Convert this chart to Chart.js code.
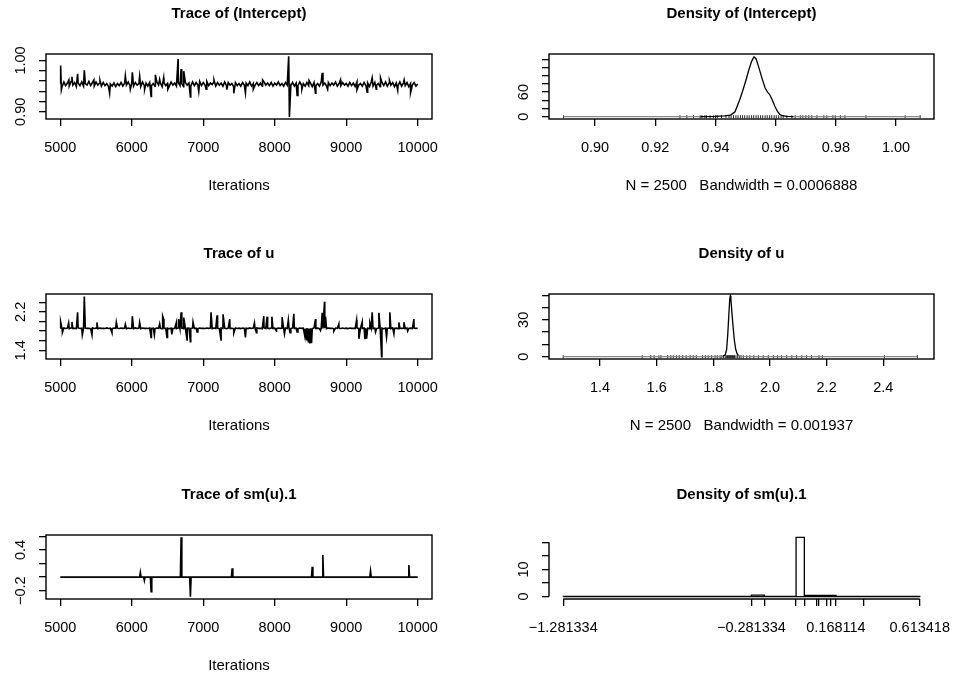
<!DOCTYPE html>
<html>
<head>
<meta charset="utf-8">
<script src="https://cdn.jsdelivr.net/npm/chart.js@4.4.0/dist/chart.umd.min.js"></script>
<style>
  body { margin: 0; background: #fff; width: 954px; height: 679px; position: relative; overflow: hidden; }
  canvas { position: absolute; }
</style>
</head>
<body>
<script>
// ---- data ----
const traceStart = 5000, traceThin = 25;
const iterTicks = [5000, 6000, 7000, 8000, 9000, 10000];
const iterLabels = ['5000', '6000', '7000', '8000', '9000', '10000'];

// (Intercept) trace, every 25th iteration
const interceptBase = [
  0.955, 0.949, 0.958, 0.951, 0.956, 0.950, 0.959, 0.952, 0.957, 0.949,
  0.956, 0.951, 0.958, 0.950, 0.955, 0.952, 0.959, 0.951, 0.957, 0.950,
  0.958, 0.952, 0.956, 0.950, 0.957, 0.951, 0.955, 0.949, 0.954, 0.950,
  0.956, 0.949, 0.955, 0.951, 0.957, 0.950, 0.956, 0.952, 0.958, 0.951,
  0.956, 0.950, 0.957, 0.952, 0.955, 0.949, 0.958, 0.951, 0.956, 0.950,
  0.957, 0.951, 0.955, 0.950, 0.958, 0.952, 0.956, 0.949, 0.957, 0.951,
  0.955, 0.950, 0.958, 0.952, 0.956, 0.950, 0.957, 0.951, 0.955, 0.949,
  0.957, 0.952, 0.956, 0.950, 0.958, 0.951, 0.957, 0.952, 0.959, 0.951,
  0.957, 0.952, 0.959, 0.951, 0.956, 0.953, 0.958, 0.950, 0.957, 0.952,
  0.956, 0.950, 0.958, 0.951, 0.957, 0.952, 0.955, 0.949, 0.957, 0.951,
  0.955, 0.950, 0.957, 0.952, 0.956, 0.951, 0.958, 0.950, 0.955, 0.952,
  0.957, 0.951, 0.956, 0.950, 0.958, 0.952, 0.956, 0.951, 0.957, 0.950,
  0.956, 0.952, 0.958, 0.951, 0.955, 0.950, 0.957, 0.952, 0.956, 0.951,
  0.957, 0.950, 0.956, 0.951, 0.958, 0.952, 0.955, 0.950, 0.957, 0.951,
  0.956, 0.949, 0.957, 0.951, 0.955, 0.950, 0.958, 0.952, 0.956, 0.950,
  0.957, 0.951, 0.956, 0.952, 0.958, 0.950, 0.955, 0.951, 0.957, 0.952,
  0.955, 0.950, 0.957, 0.951, 0.956, 0.949, 0.958, 0.952, 0.955, 0.950,
  0.957, 0.951, 0.956, 0.949, 0.958, 0.950, 0.957, 0.952, 0.955, 0.949,
  0.957, 0.951, 0.958, 0.950, 0.956, 0.952, 0.957, 0.949, 0.956, 0.951,
  0.958, 0.950, 0.956, 0.951, 0.957, 0.949, 0.955, 0.952, 0.957, 0.950,
  0.954
];
const interceptSpikeIter = [5005, 5015, 5120, 5163, 5242, 5336, 5470, 5555, 5690, 5910, 5980, 6008, 6110, 6180, 6270, 6330, 6390, 6446, 6505, 6648, 6690, 6727, 6820, 6937, 7040, 7150, 7330, 7427, 7590, 7700, 7830, 8195, 8205, 8313, 8380, 8480, 8570, 8664, 8740, 8920, 9150, 9293, 9363, 9420, 9480, 9605, 9720, 9810, 9900];
const interceptSpikeVals = [0.990, 0.943, 0.962, 0.968, 0.974, 0.981, 0.962, 0.961, 0.936, 0.970, 0.944, 0.977, 0.969, 0.944, 0.930, 0.972, 0.963, 0.966, 0.944, 1.003, 0.983, 0.979, 0.929, 0.940, 0.944, 0.962, 0.943, 0.936, 0.937, 0.944, 0.962, 1.008, 0.890, 0.932, 0.944, 0.961, 0.936, 0.976, 0.944, 0.962, 0.943, 0.938, 0.966, 0.944, 0.966, 0.961, 0.942, 0.962, 0.937];
const interceptYTicks = [0.90, 0.92, 0.94, 0.96, 0.98, 1.00];
const interceptYLabels = ['0.90', '', '', '', '', '1.00'];

// (Intercept) density
const interceptDensX = [0.8895, 0.925, 0.935, 0.940, 0.943, 0.945, 0.9465, 0.948, 0.949, 0.950, 0.951, 0.952, 0.9528, 0.9535, 0.9545, 0.9555, 0.9565, 0.9573, 0.958, 0.9588, 0.9597, 0.9605, 0.9613, 0.962, 0.9635, 0.966, 0.975, 1.008];
const interceptDensY = [0, 0.1, 0.3, 1, 2, 4, 12, 40, 62, 86, 112, 135, 146, 141, 118, 93, 70, 60, 54, 42, 26, 14, 6, 3, 1, 0.3, 0.1, 0];
const interceptRug = [0.8895, 0.9282, 0.9305, 0.9327, 0.9349, 0.9355, 0.9365, 0.937, 0.9382, 0.9393, 0.940, 0.9406, 0.942, 0.9435, 0.9445, 0.9452, 0.946, 0.9468, 0.9475, 0.9483, 0.949, 0.9497, 0.9505, 0.9512, 0.952, 0.9527, 0.9535, 0.9542, 0.955, 0.9557, 0.9565, 0.9572, 0.958, 0.9587, 0.9595, 0.9602, 0.961, 0.9618, 0.9625, 0.9637, 0.9654, 0.9665, 0.9682, 0.969, 0.970, 0.971, 0.972, 0.9737, 0.976, 0.977, 0.979, 0.9798, 0.9815, 0.983, 0.990, 1.003, 1.008];
const interceptXTicks = [0.90, 0.92, 0.94, 0.96, 0.98, 1.00];
const interceptXLabels = ['0.90', '0.92', '0.94', '0.96', '0.98', '1.00'];
const interceptDensTicks = [0, 20, 40, 60, 80, 100, 120, 140];
const interceptDensLabels = ['0', '', '', '60', '', '', '', ''];

// u trace, every 25th iteration
const uBase = [
  1.862, 1.853, 1.866, 1.855, 1.861, 1.851, 1.864, 1.856, 1.860, 1.852,
  1.865, 1.854, 1.861, 1.850, 1.863, 1.856, 1.859, 1.852, 1.866, 1.855,
  1.861, 1.851, 1.864, 1.856, 1.860, 1.853, 1.866, 1.855, 1.862, 1.850,
  1.863, 1.857, 1.861, 1.853, 1.865, 1.856, 1.860, 1.851, 1.864, 1.855,
  1.859, 1.852, 1.866, 1.856, 1.861, 1.850, 1.863, 1.857, 1.860, 1.853,
  1.865, 1.855, 1.862, 1.851, 1.864, 1.856, 1.860, 1.852, 1.866, 1.857,
  1.861, 1.850, 1.863, 1.855, 1.859, 1.853, 1.865, 1.856, 1.862, 1.851,
  1.864, 1.857, 1.860, 1.852, 1.866, 1.855, 1.861, 1.850, 1.863, 1.856,
  1.859, 1.853, 1.865, 1.857, 1.862, 1.851, 1.864, 1.855, 1.860, 1.852,
  1.866, 1.856, 1.861, 1.850, 1.863, 1.857, 1.860, 1.853, 1.865, 1.855,
  1.862, 1.851, 1.864, 1.856, 1.860, 1.852, 1.866, 1.855, 1.861, 1.853,
  1.863, 1.856, 1.860, 1.851, 1.865, 1.855, 1.862, 1.852, 1.864, 1.857,
  1.861, 1.850, 1.863, 1.856, 1.859, 1.853, 1.866, 1.855, 1.862, 1.851,
  1.864, 1.857, 1.860, 1.852, 1.865, 1.856, 1.861, 1.850, 1.863, 1.855,
  1.860, 1.853, 1.866, 1.856, 1.862, 1.851, 1.864, 1.855, 1.861, 1.852,
  1.865, 1.857, 1.860, 1.850, 1.863, 1.856, 1.861, 1.853, 1.864, 1.855,
  1.862, 1.851, 1.865, 1.856, 1.860, 1.852, 1.866, 1.855, 1.861, 1.853,
  1.863, 1.857, 1.860, 1.851, 1.864, 1.855, 1.862, 1.852, 1.865, 1.856,
  1.861, 1.850, 1.863, 1.857, 1.859, 1.853, 1.866, 1.855, 1.862, 1.851,
  1.864, 1.856, 1.860, 1.852, 1.865, 1.855, 1.861, 1.853, 1.863, 1.856,
  1.858
];
const uSpikeIter = [5005, 5030, 5117, 5163, 5242, 5308, 5336, 5443, 5513, 5723, 5784, 5910, 6008, 6110, 6270, 6316, 6390, 6432, 6445, 6493, 6560, 6624, 6656, 6690, 6727, 6773, 6820, 6857, 6913, 7109, 7193, 7249, 7277, 7370, 7427, 7590, 7716, 7744, 7847, 7893, 7960, 8024, 8103, 8136, 8190, 8215, 8267, 8313, 8420, 8445, 8470, 8490, 8515, 8570, 8640, 8664, 8696, 8710, 8827, 8897, 9145, 9177, 9223, 9262, 9285, 9331, 9363, 9410, 9457, 9495, 9564, 9610, 9667, 9737, 9807, 9860, 9947];
const uSpikeVals = [1.995, 1.775, 1.97, 1.99, 2.19, 1.72, 2.52, 1.72, 1.98, 1.765, 1.985, 1.94, 2.11, 1.98, 1.67, 1.72, 1.95, 2.11, 2.05, 1.67, 1.73, 1.98, 2.05, 2.19, 2.08, 1.615, 1.58, 1.99, 1.78, 2.19, 2.13, 1.615, 2.15, 2.05, 1.76, 1.67, 1.97, 1.765, 2.11, 2.10, 2.10, 1.80, 2.09, 1.74, 2.03, 1.765, 2.16, 1.78, 1.70, 1.62, 1.58, 1.545, 1.55, 2.05, 1.81, 2.18, 2.41, 2.10, 1.80, 1.95, 2.03, 1.64, 1.99, 1.63, 1.64, 1.97, 2.19, 1.78, 2.18, 1.27, 1.68, 2.19, 1.74, 1.98, 1.985, 1.80, 2.05];
const uYTicks = [1.4, 1.6, 1.8, 2.0, 2.2, 2.4];
const uYLabels = ['1.4', '', '', '', '2.2', ''];

// u density
const uDensX = [1.27, 1.80, 1.835, 1.842, 1.847, 1.851, 1.855, 1.858, 1.860, 1.862, 1.866, 1.870, 1.874, 1.879, 1.884, 1.889, 1.90, 1.95, 2.52];
const uDensY = [0, 0, 0.3, 1.5, 6, 18, 35, 47, 49.6, 47, 35, 24, 14, 6, 2.5, 0.8, 0.2, 0, 0];
const uRug = [1.27, 1.549, 1.579, 1.591, 1.608, 1.615, 1.639, 1.650, 1.659, 1.67, 1.680, 1.692, 1.704, 1.718, 1.729, 1.74, 1.762, 1.772, 1.782, 1.794, 1.806, 1.814, 1.824, 1.830, 1.836, 1.842, 1.846, 1.850, 1.853, 1.856, 1.858, 1.860, 1.862, 1.865, 1.868, 1.871, 1.875, 1.880, 1.886, 1.892, 1.898, 1.906, 1.918, 1.929, 1.943, 1.959, 1.976, 1.994, 2.012, 2.027, 2.041, 2.059, 2.077, 2.094, 2.112, 2.129, 2.147, 2.173, 2.185, 2.404, 2.52];
const uXTicks = [1.4, 1.6, 1.8, 2.0, 2.2, 2.4];
const uXLabels = ['1.4', '1.6', '1.8', '2.0', '2.2', '2.4'];
const uDensTicks = [0, 10, 20, 30, 40, 50];
const uDensLabels = ['0', '', '', '30', '', ''];

// sm(u).1 trace (flat at 0 apart from a few single-draw jumps)
const smIter = [5000, 6110, 6120, 6130, 6166, 6176, 6186, 6260, 6270, 6280, 6680, 6690, 6700, 6810, 6820, 6830, 7394, 7404, 7414, 8514, 8524, 8534, 8663, 8673, 8683, 9330, 9340, 9350, 9866, 9876, 9886, 10000];
const smVals = [0, 0, 0.07, 0, 0, -0.053, 0, 0, -0.215, 0, 0, 0.586, 0, 0, -0.288, 0, 0, 0.13, 0, 0, 0.153, 0, 0, 0.326, 0, 0, 0.09, 0, 0, 0.178, 0, 0];
const smYTicks = [-0.2, 0, 0.2, 0.4, 0.6];
const smYLabels = ['\u22120.2', '', '', '0.4', ''];

// sm(u).1 histogram
const smBreaks = [-1.281334, -0.281334, -0.2123, -0.0439, 0.0, 0.0676, 0.0761, 0.1207, 0.142, 0.168114, 0.315, 0.613418];
const smHeights = [0.08, 0.5, 0.05, 21.8, 0.4, 0.4, 0.4, 0.4, 0.4, 0.08, 0.08];
const smBreakLabels = ['\u22121.281334', '\u22120.281334', '', '', '', '', '', '', '', '0.168114', '', '0.613418'];
const smHistTicks = [0, 5, 10, 15, 20];
const smHistLabels = ['0', '', '10', '', ''];

// ---- drawing ----
const FAMILY = '"Liberation Sans", Arial, Helvetica, sans-serif';
const FONT_TICK = 14.5, FONT_MAIN = 15, FONT_LAB = 15;
const TICK_LEN = 7;
const YLAB_OFF = 25;          // box edge -> centre of rotated y labels
const Y_BOX = 40, X_BOX = 50;  // room kept for each axis
Chart.defaults.font.family = FAMILY;
Chart.defaults.color = '#000';

function widest(labels, size) {
  const c = document.createElement('canvas').getContext('2d');
  c.font = size + 'px ' + FAMILY;
  return Math.max(0, ...labels.map(s => c.measureText(s).width));
}

function axis(min, max, vals, labels, isY) {
  const o = {
    type: 'linear', min, max,
    position: isY ? 'left' : 'bottom',
    afterFit: s => {
      if (isY) s.width = Y_BOX; else s.height = X_BOX;
      s.paddingLeft = s.paddingRight = s.paddingTop = s.paddingBottom = 0;
    },
    afterBuildTicks: s => { s.ticks = vals.map(v => ({ value: v })); },
    grid: { drawOnChartArea: false, drawTicks: true, tickLength: TICK_LEN, color: '#000', lineWidth: 1.3 },
    border: { display: false },
    ticks: { autoSkip: false, font: { size: FONT_TICK }, color: '#000', callback: (v, i) => labels[i] }
  };
  if (isY) {
    Object.assign(o.ticks, { minRotation: 90, maxRotation: 90, crossAlign: 'center', padding: YLAB_OFF - TICK_LEN - widest(labels, FONT_TICK) / 2 });
  } else {
    Object.assign(o.ticks, { minRotation: 0, maxRotation: 0, padding: 13 });
  }
  return o;
}

const rPlugin = {
  id: 'rtext',
  afterDraw(chart, args, o) {
    const { ctx, chartArea: a, scales } = chart;
    ctx.save();
    ctx.strokeStyle = '#000';
    ctx.lineWidth = 1.4;
    if (o.box) {
      ctx.strokeRect(a.left, a.top, a.right - a.left, a.bottom - a.top);
    } else {
      const xs = scales.x.ticks, ys = scales.y.ticks;
      ctx.beginPath();
      ctx.moveTo(scales.x.getPixelForValue(xs[0].value), a.bottom);
      ctx.lineTo(scales.x.getPixelForValue(xs[xs.length - 1].value), a.bottom);
      ctx.moveTo(a.left, scales.y.getPixelForValue(ys[0].value));
      ctx.lineTo(a.left, scales.y.getPixelForValue(ys[ys.length - 1].value));
      ctx.stroke();
    }
    ctx.fillStyle = '#000';
    ctx.textAlign = 'center';
    ctx.textBaseline = 'middle';
    const cx = (a.left + a.right) / 2;
    ctx.font = 'bold ' + FONT_MAIN + 'px ' + FAMILY;
    ctx.fillText(o.title, cx, a.top - 40);
    if (o.xlab) {
      ctx.font = FONT_LAB + 'px ' + FAMILY;
      ctx.fillText(o.xlab, cx, a.bottom + 67);
    }
    ctx.restore();
  }
};

function panel(box, datasets, xa, ya, texts) {
  const PL = 60, PT = 54, PR = 16, PB = 80;
  const cv = document.createElement('canvas');
  cv.width = box.r - box.l + PL + PR;
  cv.height = box.b - box.t + PT + PB;
  cv.style.left = (box.l - PL) + 'px';
  cv.style.top = (box.t - PT) + 'px';
  document.body.appendChild(cv);
  new Chart(cv, {
    type: 'line',
    data: { datasets },
    options: {
      responsive: false,
      animation: false,
      layout: { padding: { left: PL - Y_BOX, top: PT, right: PR, bottom: PB - X_BOX } },
      scales: { x: xa, y: ya },
      plugins: { legend: { display: false }, tooltip: { enabled: false }, rtext: texts }
    },
    plugins: [rPlugin]
  });
}

function tracePoints(base, spikeIter, spikeVals) {
  const pts = base.map((v, i) => ({ x: traceStart + i * traceThin, y: v }));
  spikeIter.forEach((it, i) => pts.push({ x: it, y: spikeVals[i] }));
  return pts.sort((p, q) => p.x - q.x);
}

const pairs = (xs, ys) => xs.map((x, i) => ({ x, y: ys[i] }));

function lineSet(data, width) {
  return { data, borderColor: '#000', borderWidth: width, pointRadius: 0, tension: 0, fill: false };
}

// density curve: the flat tails along zero come out grey in the original
function densSet(data) {
  const s = lineSet(data, 1.3);
  s.segment = { borderColor: c => (c.p0.parsed.y < 1 && c.p1.parsed.y < 1) ? '#8a8a8a' : '#000' };
  return s;
}

function rugSet(xs) {
  return { type: 'scatter', data: xs.map(x => ({ x, y: 0 })), pointStyle: 'line', rotation: 90, pointRadius: 1.5, borderColor: '#222', borderWidth: 1, showLine: false };
}

function histOutline(breaks, heights) {
  const pts = [{ x: breaks[0], y: 0 }];
  heights.forEach((h, i) => {
    pts.push({ x: breaks[i], y: h }, { x: breaks[i + 1], y: h }, { x: breaks[i + 1], y: 0 });
  });
  pts.push({ x: breaks[0], y: 0 });
  return pts;
}

const leftCol = { l: 46, r: 432 }, rightCol = { l: 549, r: 934 };

panel({ ...leftCol, t: 54, b: 119 },
  [lineSet(tracePoints(interceptBase, interceptSpikeIter, interceptSpikeVals), 1.6)],
  axis(4800, 10200, iterTicks, iterLabels, false),
  axis(0.886, 1.0125, interceptYTicks, interceptYLabels, true),
  { title: 'Trace of (Intercept)', xlab: 'Iterations', box: true });

panel({ ...rightCol, t: 54, b: 119 },
  [densSet(pairs(interceptDensX, interceptDensY)), rugSet(interceptRug)],
  axis(0.8847, 1.0126, interceptXTicks, interceptXLabels, false),
  axis(-5.6, 153, interceptDensTicks, interceptDensLabels, true),
  { title: 'Density of (Intercept)', xlab: 'N = 2500   Bandwidth = 0.0006888', box: true });

panel({ ...leftCol, t: 294, b: 359 },
  [lineSet(tracePoints(uBase, uSpikeIter, uSpikeVals), 1.6)],
  axis(4800, 10200, iterTicks, iterLabels, false),
  axis(1.22, 2.571, uYTicks, uYLabels, true),
  { title: 'Trace of u', xlab: 'Iterations', box: true });

panel({ ...rightCol, t: 294, b: 359 },
  [densSet(pairs(uDensX, uDensY)), rugSet(uRug)],
  axis(1.22, 2.579, uXTicks, uXLabels, false),
  axis(-1.87, 51, uDensTicks, uDensLabels, true),
  { title: 'Density of u', xlab: 'N = 2500   Bandwidth = 0.001937', box: true });

panel({ ...leftCol, t: 535, b: 599 },
  [lineSet(pairs(smIter, smVals), 1.6)],
  axis(4800, 10200, iterTicks, iterLabels, false),
  axis(-0.323, 0.621, smYTicks, smYLabels, true),
  { title: 'Trace of sm(u).1', xlab: 'Iterations', box: true });

panel({ ...rightCol, t: 535, b: 599 },
  [lineSet(histOutline(smBreaks, smHeights), 1.3)],
  axis(-1.3571, 0.6892, smBreaks, smBreakLabels, false),
  axis(-0.9, 22.7, smHistTicks, smHistLabels, true),
  { title: 'Density of sm(u).1', xlab: '', box: false });
</script>
</body>
</html>
